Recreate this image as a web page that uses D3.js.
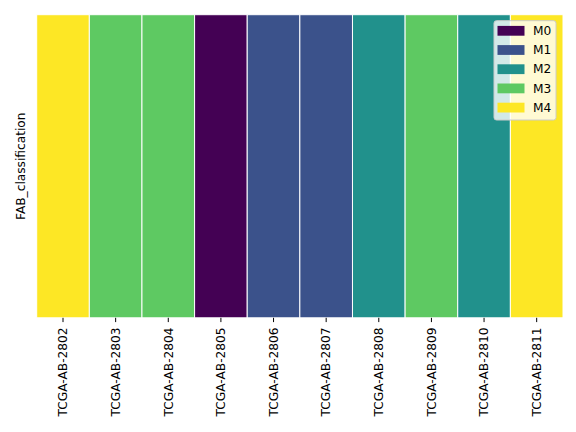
<!DOCTYPE html>
<html><head><meta charset="utf-8">
<script src="https://cdn.jsdelivr.net/npm/d3@7"></script>
<style>body{margin:0;background:#fff}svg{display:block}text{font-family:"DejaVu Sans",sans-serif}</style>
</head><body><svg id="c" width="576" height="432"></svg>
<script>
const samples = ["TCGA-AB-2802","TCGA-AB-2803","TCGA-AB-2804","TCGA-AB-2805","TCGA-AB-2806","TCGA-AB-2807","TCGA-AB-2808","TCGA-AB-2809","TCGA-AB-2810","TCGA-AB-2811"];
const classes = ["M4","M3","M3","M0","M1","M1","M2","M3","M2","M4"];
const categories = ["M0","M1","M2","M3","M4"];
const colors = ["#440154","#3b528b","#21918c","#5ec962","#fde725"];
const rowLabel = "FAB_classification";

const FS = 12.2;
const svg = d3.select("#c");
const L = 36.7, R = 563, T = 14.7, B = 317.8;
const x = d3.scaleBand().domain(samples).range([L, R]);
const color = d3.scaleOrdinal().domain(categories).range(colors);

svg.append("g").selectAll("rect").data(samples).join("rect")
  .attr("x", d => x(d)).attr("y", T)
  .attr("width", x.bandwidth()).attr("height", B - T)
  .attr("fill", (d, i) => color(classes[i]))
  .attr("stroke", "#fff").attr("stroke-width", 1);

const ax = svg.append("g").attr("transform", `translate(0,${B})`)
  .call(d3.axisBottom(x).tickSize(4.3).tickPadding(4.3));
ax.select(".domain").remove();
ax.selectAll(".tick line").attr("stroke", "#000").attr("stroke-width", 1);
ax.selectAll(".tick text").attr("font-size", FS).attr("fill", "#000")
  .attr("font-family", "DejaVu Sans")
  .attr("transform", "rotate(-90)").attr("text-anchor", "end")
  .attr("x", -9.6).attr("y", 0).attr("dy", "0.35em");

svg.append("text").attr("transform", `translate(24.5,${(T + B) / 2}) rotate(-90)`)
  .attr("text-anchor", "middle").attr("font-size", FS).attr("fill", "#000").text(rowLabel);

const lg = svg.append("g");
lg.append("rect").attr("x", 494).attr("y", 20.7).attr("width", 62).attr("height", 99.3)
  .attr("rx", 2.5).attr("fill", "rgba(255,255,255,0.8)").attr("stroke", "#cccccc").attr("stroke-width", 1);
const row = lg.selectAll("g.r").data(categories).join("g")
  .attr("transform", (d, i) => `translate(0,${30.8 + i * 19.2})`);
row.append("rect").attr("x", 497.5).attr("y", -4.9).attr("width", 27).attr("height", 9.8)
  .attr("fill", d => color(d));
row.append("text").attr("x", 533).attr("y", 0).attr("dy", "0.35em")
  .attr("font-size", FS).attr("fill", "#000").text(d => d);
</script></body></html>
